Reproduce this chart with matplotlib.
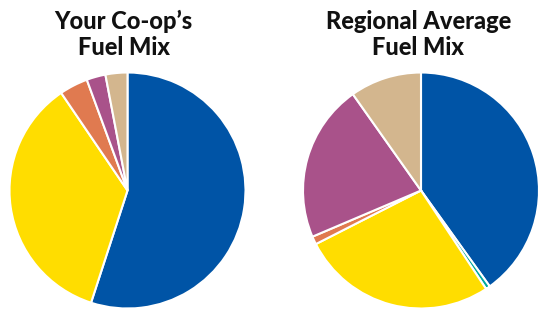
import matplotlib
matplotlib.use("Agg")
import matplotlib.pyplot as plt

W, H = 538, 309
categories_left = ["Hydro", "Nuclear", "Coal", "Natural Gas", "Renewables"]
values_left = [55.0, 35.5, 3.9, 2.6, 3.0]
colors_left = ["#0054A6", "#FFDD00", "#E07A50", "#A9528A", "#D3B68E"]

categories_right = ["Hydro", "Oil", "Nuclear", "Coal", "Natural Gas", "Renewables"]
values_right = [40.1, 0.6, 26.8, 1.1, 21.6, 9.8]
colors_right = ["#0054A6", "#00A99D", "#FFDD00", "#E07A50", "#A9528A", "#D3B68E"]

titles = ["Your Co-op\u2019s\nFuel Mix", "Regional Average\nFuel Mix"]

fig = plt.figure(figsize=(W / 100, H / 100), dpi=100)
R = 118

def add_pie(cx, cy_top, vals, cols):
    cy = H - cy_top
    ax = fig.add_axes([(cx - R) / W, (cy - R) / H, 2 * R / W, 2 * R / H])
    ax.pie(vals, colors=cols, startangle=90, counterclock=False, radius=1,
           wedgeprops=dict(edgecolor="white", linewidth=1.5))
    ax.set_xlim(-1, 1)
    ax.set_ylim(-1, 1)
    ax.set_aspect("auto")
    ax.axis("off")
    return ax

add_pie(127.5, 190.5, values_left, colors_left)
add_pie(421, 190.5, values_right, colors_right)

for x, t in zip([123.5, 418.5], titles):
    l1, l2 = t.split("\n")
    fig.text(x / W, 1 - 29 / H, l1, ha="center", va="baseline", fontsize=17,
             fontweight="black", family="Lato", color="#111111")
    fig.text(x / W, 1 - 55 / H, l2, ha="center", va="baseline", fontsize=17,
             fontweight="black", family="Lato", color="#111111")

fig.savefig("out.png", dpi=100)
